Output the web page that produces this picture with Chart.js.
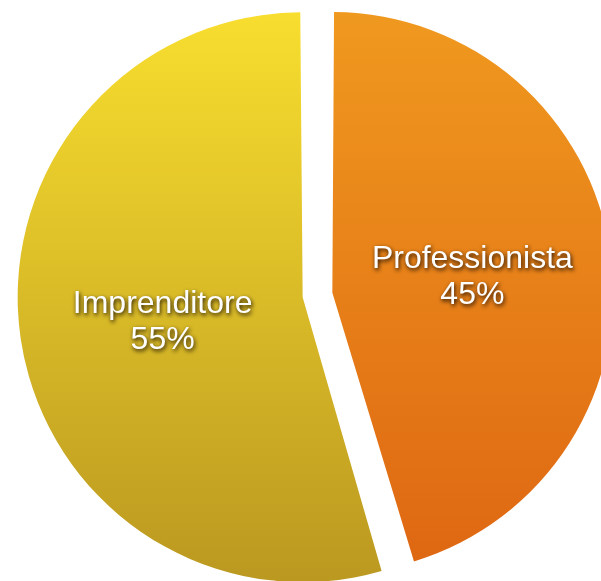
<!DOCTYPE html>
<html>
<head>
<meta charset="utf-8">
<script src="https://cdn.jsdelivr.net/npm/chart.js@4"></script>
<style>
  html, body { margin: 0; padding: 0; background: #ffffff; }
  #wrap { width: 601px; height: 581px; position: relative; }
</style>
</head>
<body>
<div id="wrap"><canvas id="pie"></canvas></div>
<script>
const categorie = ['Professionista', 'Imprenditore'];
const valori = [45.4, 54.6];
const etichette = ['45%', '55%'];

// colori gradiente (alto, basso) per ogni fetta
const coloriAlto = ['#f09a1f', '#f9df2f'];
const coloriBasso = ['#de6612', '#bb9820'];

function gradiente(context) {
    const chart = context.chart;
    const area = chart.chartArea;
    if (!area) return coloriAlto[context.dataIndex];
    const g = chart.ctx.createLinearGradient(0, 0, 0, chart.height);
    g.addColorStop(0, coloriAlto[context.dataIndex]);
    g.addColorStop(1, coloriBasso[context.dataIndex]);
    return g;
}

const labelPlugin = {
    id: 'labelPlugin',
    afterDatasetsDraw(chart) {
        const ctx = chart.ctx;
        const meta = chart.getDatasetMeta(0);
        meta.data.forEach((arc, i) => {
            const p = arc.getProps(['x', 'y', 'startAngle', 'endAngle', 'outerRadius']);
            const mid = (p.startAngle + p.endAngle) / 2;
            // chart.js v4 sposta la fetta di offset/4
            const off = (arc.options.offset || 0) / 4;
            const d = off + (p.outerRadius + 13) / 2;
            const x = p.x + Math.cos(mid) * d;
            const y = p.y + Math.sin(mid) * d;
            ctx.save();
            ctx.font = '32px "Liberation Sans", Arial, sans-serif';
            ctx.textAlign = 'center';
            ctx.textBaseline = 'middle';
            ctx.fillStyle = '#ffffff';
            ctx.shadowColor = 'rgba(15,5,0,0.95)';
            ctx.shadowOffsetX = 1;
            ctx.shadowOffsetY = 2;
            ctx.shadowBlur = 4;
            ctx.fillText(categorie[i], x, y - 13);
            ctx.fillText(etichette[i], x, y + 23);
            ctx.restore();
        });
    }
};

new Chart(document.getElementById('pie'), {
    type: 'pie',
    data: {
        labels: categorie,
        datasets: [{
            data: valori,
            backgroundColor: gradiente,
            borderWidth: 0,
            offset: 60,
            clip: false
        }]
    },
    options: {
        responsive: true,
        maintainAspectRatio: false,
        animation: false,
        radius: 270,
        layout: { padding: { left: 34, top: 9, right: 0, bottom: 0 } },
        plugins: {
            legend: { display: false },
            tooltip: { enabled: false }
        }
    },
    plugins: [labelPlugin]
});
</script>
</body>
</html>
